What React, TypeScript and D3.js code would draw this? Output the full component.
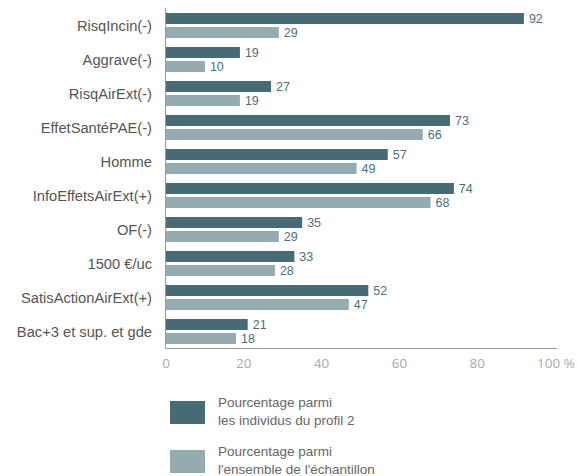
import React, { useRef, useEffect } from 'react';
import * as d3 from 'd3';

const categories = [
  'RisqIncin(-)',
  'Aggrave(-)',
  'RisqAirExt(-)',
  'EffetSantéPAE(-)',
  'Homme',
  'InfoEffetsAirExt(+)',
  'OF(-)',
  '1500 €/uc',
  'SatisActionAirExt(+)',
  'Bac+3 et sup. et gde',
];
const profil2 = [92, 19, 27, 73, 57, 74, 35, 33, 52, 21];
const ensemble = [29, 10, 19, 66, 49, 68, 29, 28, 47, 18];
const xTicks = [0, 20, 40, 60, 80, 100];
const seriesKeys = ['profil2', 'ensemble'];
const legendLabels = [
  ['Pourcentage parmi', 'les individus du profil 2'],
  ['Pourcentage parmi', "l'ensemble de l'échantillon"],
];

const colors = { profil2: '#466b75', ensemble: '#94abb0' };

const App = () => {
  const svgRef = useRef(null);

  useEffect(() => {
    const width = 577;
    const height = 476;
    const font = '"Liberation Sans", Arial, sans-serif';

    d3.select(svgRef.current).selectAll('*').remove();
    const svg = d3.select(svgRef.current).attr('width', width).attr('height', height);

    const xScale = d3.scaleLinear().domain([0, 100]).range([166, 555]);
    const yScale = d3
      .scaleBand()
      .domain(categories)
      .range([8.5, 348.5])
      .paddingInner(0.265)
      .paddingOuter(0.1325);
    const subScale = d3
      .scaleBand()
      .domain(seriesKeys)
      .range([0, yScale.bandwidth()])
      .paddingInner(3 / 14);

    const data = categories.map((c, i) => ({ cat: c, profil2: profil2[i], ensemble: ensemble[i] }));

    // bars + value labels
    const groups = svg
      .selectAll('.grp')
      .data(data)
      .enter()
      .append('g')
      .attr('class', 'grp')
      .attr('transform', d => `translate(0,${yScale(d.cat)})`);

    seriesKeys.forEach(key => {
      groups
        .append('rect')
        .attr('x', xScale(0))
        .attr('y', subScale(key))
        .attr('width', d => xScale(d[key]) - xScale(0))
        .attr('height', subScale.bandwidth())
        .attr('fill', colors[key]);

      groups
        .append('text')
        .attr('x', d => xScale(d[key]) + 5)
        .attr('y', subScale(key) + subScale.bandwidth() / 2)
        .attr('dy', '0.38em')
        .style('font-family', font)
        .style('font-size', '12.5px')
        .attr('fill', '#4d6f78')
        .text(d => d[key]);
    });

    // category labels
    svg
      .selectAll('.cat-label')
      .data(categories)
      .enter()
      .append('text')
      .attr('class', 'cat-label')
      .attr('x', 152)
      .attr('y', d => yScale(d) + yScale.bandwidth() / 2)
      .attr('dy', '0.36em')
      .style('text-anchor', 'end')
      .style('font-family', font)
      .style('font-size', '14.7px')
      .attr('fill', '#555')
      .text(d => d);

    // axes lines
    svg.append('line')
      .attr('x1', 165.5).attr('x2', 165.5)
      .attr('y1', 8).attr('y2', 348.5)
      .attr('stroke', '#999').attr('stroke-width', 1);
    svg.append('line')
      .attr('x1', 165.5).attr('x2', 557)
      .attr('y1', 348.5).attr('y2', 348.5)
      .attr('stroke', '#999').attr('stroke-width', 1);

    // x tick labels
    svg
      .selectAll('.x-tick')
      .data(xTicks)
      .enter()
      .append('text')
      .attr('class', 'x-tick')
      .attr('x', d => (d === 100 ? xScale(d) + 1 : xScale(d)))
      .attr('y', 368)
      .style('text-anchor', 'middle')
      .style('font-family', '"Open Sans", sans-serif')
      .style('font-size', '13.5px')
      .attr('fill', '#aaa')
      .text(d => (d === 100 ? '100 %' : d));

    // legend
    const legend = svg
      .selectAll('.legend')
      .data(seriesKeys)
      .enter()
      .append('g')
      .attr('class', 'legend')
      .attr('transform', (d, i) => `translate(170,${401 + i * 49})`);

    legend.append('rect')
      .attr('width', 35)
      .attr('height', 23)
      .attr('fill', d => colors[d]);

    legend.each(function (d, i) {
      const g = d3.select(this);
      legendLabels[i].forEach((line, j) => {
        g.append('text')
          .attr('x', 48)
          .attr('y', 6 + j * 18)
          .style('font-family', font)
          .style('font-size', '13.5px')
          .attr('fill', '#666')
          .text(line);
      });
    });
  }, []);

  return (
    <svg ref={svgRef} style={{ position: 'absolute', left: 0, top: 0, background: '#fff' }}></svg>
  );
};

export default App;
